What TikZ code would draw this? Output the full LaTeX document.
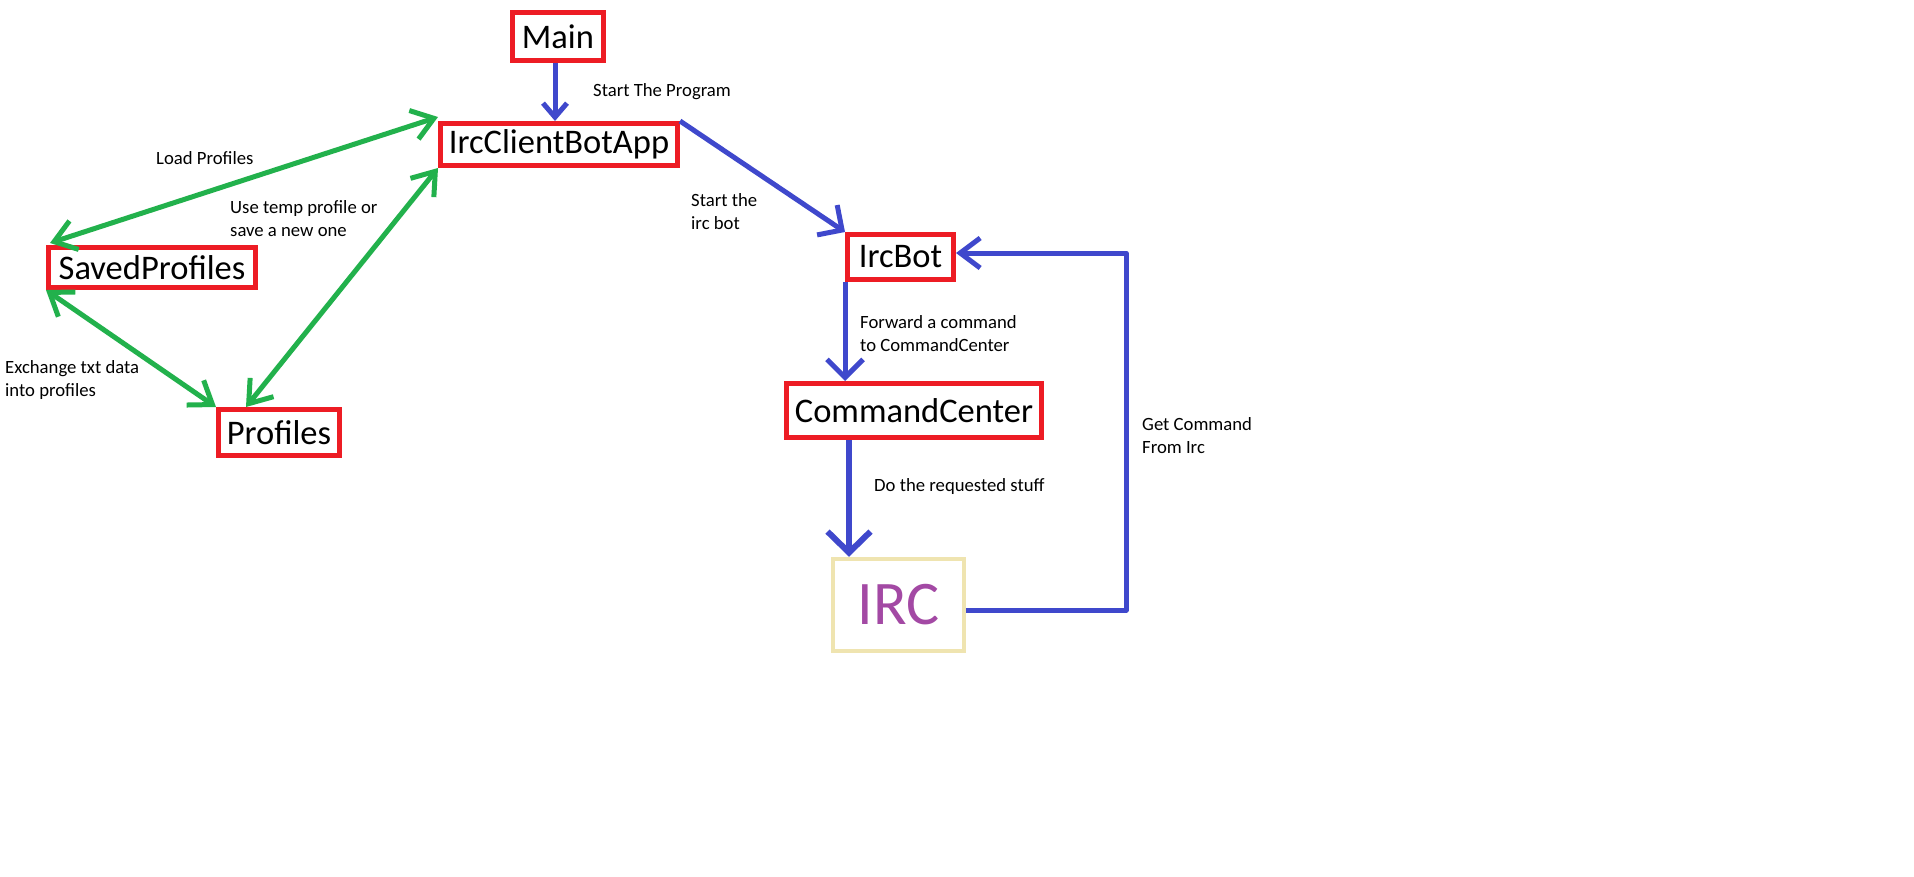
\documentclass[tikz,border=0pt]{standalone}
\usepackage{fontspec}
\setmainfont{Carlito}
\usetikzlibrary{arrows.meta}
\definecolor{boxred}{HTML}{ED1C24}
\definecolor{arrgreen}{HTML}{22B14C}
\definecolor{arrblue}{HTML}{3F48CC}
\definecolor{ircyellow}{HTML}{EFE4B0}
\definecolor{ircpurple}{HTML}{A349A4}
\begin{document}
\begin{tikzpicture}[x=1pt,y=-1pt,
  box/.style={draw=boxred,line width=5pt,inner sep=0pt,text=black,
    font=\fontsize{34.5}{40}\selectfont},
  lbl/.style={anchor=west,inner sep=0pt,align=left,text=black,
    font=\fontsize{18.7}{23}\selectfont},
  bluearr/.style={draw=arrblue,line width=5pt,line join=round,
    -{Straight Barb[length=18pt,width=36pt]}},
  greenarr/.style={draw=arrgreen,line width=5pt,line join=round,
    {Straight Barb[length=21pt,width=30pt]}-{Straight Barb[length=21pt,width=30pt]}}]
\useasboundingbox[fill=white] (0,0) rectangle (1914,876);

% boxes
\node[box,minimum width=91pt,minimum height=48pt] (main) at (558,36.5) {Main};
\node[box,minimum width=237pt,minimum height=42pt] (app) at (559,144.5) {IrcClientBotApp};
\node[box,minimum width=207pt,minimum height=40pt] (saved) at (152,267.5) {SavedProfiles};
\node[box,minimum width=121pt,minimum height=46pt] (profiles) at (279,432.5) {Profiles};
\node[box,minimum width=106pt,minimum height=45pt] (ircbot) at (900.5,257) {IrcBot};
\node[box,minimum width=255pt,minimum height=54pt] (cc) at (914,410.5) {CommandCenter};
\node[draw=ircyellow,line width=4.5pt,inner sep=0pt,minimum width=131pt,minimum height=92pt,
  text=ircpurple,font=\fontsize{62}{70}\selectfont] (irc) at (898.5,605) {IRC};

% labels
\node[lbl] (l1) at (593,91.5) {Start The Program};
\node[lbl] (l2) at (156,158) {Load Profiles};
\node[lbl] (l3) at (230,219) {Use temp profile or\\save a new one};
\node[lbl] (l4) at (691,211.5) {Start the\\irc bot};
\node[lbl] (l5) at (860,334) {Forward a command\\to CommandCenter};
\node[lbl] (l6) at (874,487) {Do the requested stuff};
\node[lbl] (l7) at (1142,436) {Get Command\\From Irc};
\node[lbl] (l8) at (5,380.5) {Exchange txt data\\into profiles};

% blue connectors
\draw[bluearr,-{Straight Barb[length=14pt,width=24pt]}] ([xshift=-3pt]main.south) -- ([xshift=-4pt]app.north);
\draw[bluearr] (app.north east) -- (ircbot.north west);
\draw[bluearr] (ircbot.south west) -- (ircbot.south west |- cc.north);
\draw[bluearr,line width=6pt,-{Straight Barb[length=21pt,width=43pt]}] ([xshift=-65pt]cc.south) -- ([xshift=-65pt]cc.south |- irc.north);
\coordinate (loopx) at (1126,430);
\draw[bluearr,-{Straight Barb[length=20pt,width=30pt]}] ([yshift=-5pt]irc.east) -| (loopx) |- ([yshift=4pt]ircbot.east);

% green connectors
\draw[greenarr] ([shift={(4pt,2pt)}]saved.north west) -- ([yshift=4pt]app.north west);
\draw[greenarr] (app.south west) -- ([xshift=30pt]profiles.north west);
\draw[greenarr] (saved.south west) -- (profiles.north west);
\end{tikzpicture}
\end{document}
